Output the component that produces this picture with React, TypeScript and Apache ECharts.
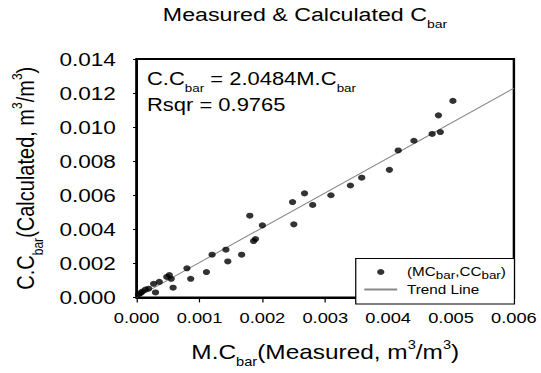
import React, { useEffect, useRef } from "react";
import * as echarts from "echarts";

// ---- data ----
const measuredX = [
  0.00003, 0.00006, 0.00009, 0.00014, 0.00019, 0.0003, 0.00027, 0.00036, 0.00058, 0.00048,
  0.00052, 0.00055, 0.0008, 0.00086, 0.00111, 0.0012, 0.00145, 0.00142, 0.00167, 0.0018,
  0.00186, 0.00189, 0.002, 0.0025, 0.00248, 0.00267, 0.0028, 0.00309, 0.0034, 0.00358,
  0.00402, 0.00416, 0.00441, 0.0047, 0.00483, 0.0048, 0.00503,
];
const calculatedY = [
  0.00017, 0.00025, 0.00034, 0.00046, 0.00051, 0.00029, 0.0008, 0.00091, 0.00057, 0.0012,
  0.00131, 0.00109, 0.00171, 0.00109, 0.00149, 0.00251, 0.00211, 0.0028, 0.00251, 0.0048,
  0.00331, 0.00343, 0.00423, 0.00429, 0.0056, 0.00611, 0.00543, 0.006, 0.00657, 0.00703,
  0.00749, 0.00863, 0.0092, 0.0096, 0.00971, 0.01069, 0.01154,
];
const trendX = [0, 0.006];
const trendY = [0, 0.01229];
const xTicks = { min: 0, max: 0.006, interval: 0.001 };
const yTicks = { min: 0, max: 0.014, interval: 0.002 };

const FONT = "'Liberation Sans', Arial, Helvetica, sans-serif";
const S = 1.22; // horizontal stretch of the reference
const W = 541 / S;
const H = 373;

function rich(main: number, sub: number, drop: number, sup: number, raise: number) {
  const b = 0.35 * main;
  const subOff = b + drop - 0.35 * sub;
  const supOff = b - raise - 0.35 * sup;
  return {
    m: { fontSize: main, fontFamily: FONT, color: "#000" },
    s: { fontSize: sub, fontFamily: FONT, color: "#000", padding: [Math.max(0, 2 * subOff), 0, 0, 0] },
    p: { fontSize: sup, fontFamily: FONT, color: "#000", padding: [0, 0, Math.max(0, -2 * supOff), 0] },
  };
}

export default function App() {
  const ref = useRef<HTMLDivElement>(null);
  useEffect(() => {
    if (!ref.current) return;
    const chart = echarts.init(ref.current, null, { renderer: "svg" });
    const points = measuredX.map((x, i) => [x, calculatedY[i]]);
    const trend = trendX.map((x, i) => [x, trendY[i]]);
    const gridLeft = 131 / S;
    const gridRight = (541 - 515) / S;
    chart.setOption({
      animation: false,
      textStyle: { fontFamily: FONT },
      grid: {
        left: gridLeft,
        right: gridRight,
        top: 59,
        bottom: 69,
        show: true,
        borderColor: "#000",
        borderWidth: 2,
      },
      xAxis: {
        type: "value",
        min: xTicks.min,
        max: xTicks.max,
        interval: xTicks.interval,
        axisLine: { show: true, onZero: false, lineStyle: { color: "#000", width: 2 } },
        axisTick: { show: true, length: 5, lineStyle: { color: "#000", width: 1 } },
        axisLabel: {
          fontSize: 15,
          color: "#000",
          margin: 13,
          formatter: (v: number) => v.toFixed(3),
        },
        splitLine: { show: false },
        name: "{m|M.C}{s|bar}{m|(Measured, m}{p|3}{m|/m}{p|3}{m|)}",
        nameLocation: "middle",
        nameGap: 39,
        nameTextStyle: { rich: rich(20, 12, 7, 12, 10) },
      },
      yAxis: {
        type: "value",
        min: yTicks.min,
        max: yTicks.max,
        interval: yTicks.interval,
        axisLine: { show: true, onZero: false, lineStyle: { color: "#000", width: 2 } },
        axisTick: { show: true, length: 3, lineStyle: { color: "#000", width: 1 } },
        axisLabel: {
          fontSize: 18.5,
          color: "#000",
          margin: 17,
          formatter: (v: number) => v.toFixed(3),
        },
        splitLine: { show: false },
        name: "{m|C.C}{s|bar}{m|(Calculated, m}{p|3}{m|/m}{p|3}{m|)}",
        nameLocation: "middle",
        nameRotate: 90,
        nameGap: 75,
        nameTextStyle: { rich: rich(20, 12, 7, 12, 10) },
      },
      legend: {
        orient: "vertical",
        right: gridRight,
        bottom: 69,
        backgroundColor: "#fff",
        borderColor: "#000",
        borderWidth: 1,
        borderRadius: 0,
        padding: [7, 7, 8, 6],
        itemGap: 2,
        itemWidth: 27,
        itemHeight: 6,
        textStyle: { padding: [0, 0, 0, 3], rich: rich(12.5, 11, 3, 11, 5) },
        formatter: (name: string) =>
          name === "points"
            ? "{m|(MC}{s|bar}{m|,CC}{s|bar}{m|)}"
            : "{m|Trend Line}",
        data: [
          { name: "points", icon: "circle" },
          { name: "Trend Line", itemStyle: { opacity: 0 } },
        ],
      },
      graphic: [
        {
          type: "text",
          x: 250,
          y: 14,
          style: {
            text: "{m|Measured & Calculated C}{s|bar}",
            rich: rich(19, 11.5, 7, 11, 8),
            align: "center",
            verticalAlign: "middle",
          },
        },
        {
          type: "text",
          x: 147 / S,
          y: 79,
          z: 10,
          style: {
            text: "{m|C.C}{s|bar}{m| = 2.0484M.C}{s|bar}",
            rich: rich(18, 11, 6.5, 11, 8),
            align: "left",
            verticalAlign: "middle",
          },
        },
        {
          type: "text",
          x: 147 / S,
          y: 105,
          z: 10,
          style: {
            text: "{m|Rsqr = 0.9765}",
            rich: rich(18, 11, 6.5, 11, 8),
            align: "left",
            verticalAlign: "middle",
          },
        },
      ],
      series: [
        {
          name: "Trend Line",
          type: "line",
          data: trend,
          symbol: "none",
          showSymbol: false,
          color: "#8a8a8a",
          lineStyle: { color: "#8a8a8a", width: 1 },
          z: 2,
        },
        {
          name: "points",
          type: "scatter",
          data: points,
          symbol: "circle",
          symbolSize: 6,
          color: "#000",
          itemStyle: { color: "#000" },
          z: 3,
        },
      ],
    });
    return () => chart.dispose();
  }, []);
  return (
    <div
      ref={ref}
      style={{
        position: "fixed",
        left: 0,
        top: 0,
        width: W,
        height: H,
        transform: `scaleX(${S})`,
        transformOrigin: "0 0",
        background: "#fff",
      }}
    />
  );
}
